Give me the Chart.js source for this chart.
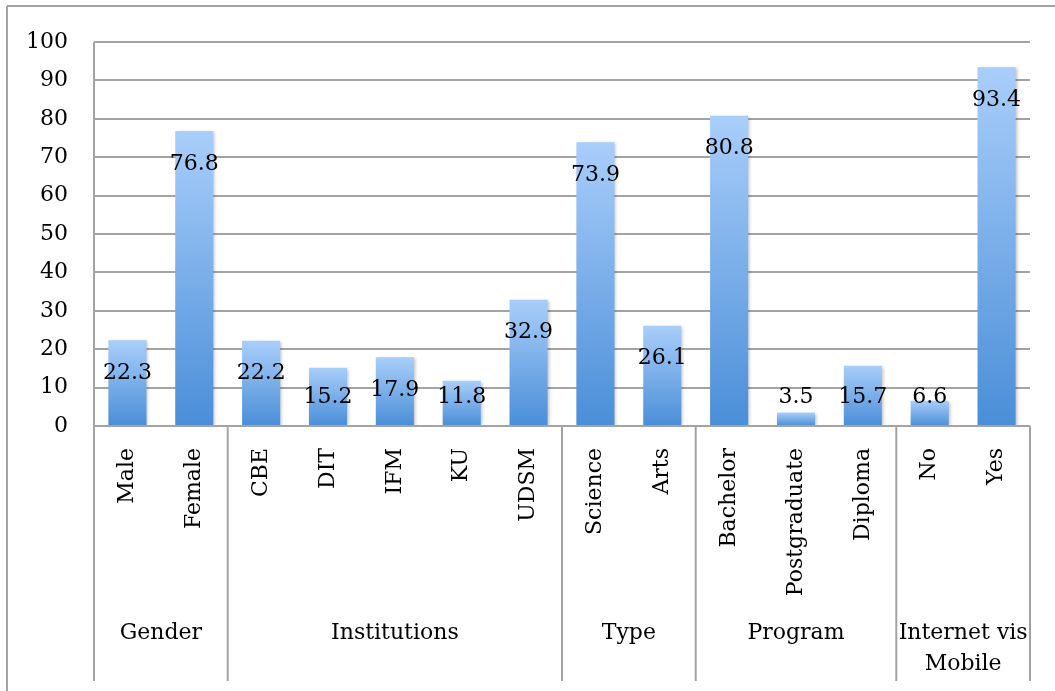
<!DOCTYPE html>
<html>
<head>
<meta charset="utf-8">
<script src="https://cdn.jsdelivr.net/npm/chart.js@4.4.0/dist/chart.umd.min.js"></script>
<style>
    body { margin: 0; background: #fff; }
    #wrap { width: 1055px; height: 691px; }
</style>
</head>
<body>
<div id="wrap"><canvas id="barChart" width="1055" height="691"></canvas></div>
<script>
// Chart data
const categories = ['Male', 'Female', 'CBE', 'DIT', 'IFM', 'KU', 'UDSM', 'Science', 'Arts',
    'Bachelor', 'Postgraduate', 'Diploma', 'No', 'Yes'];
const values = [22.3, 76.8, 22.2, 15.2, 17.9, 11.8, 32.9, 73.9, 26.1, 80.8, 3.5, 15.7, 6.6, 93.4];
const groupNames = [['Gender'], ['Institutions'], ['Type'], ['Program'], ['Internet vis', 'Mobile']];
const groupSizes = [2, 5, 2, 3, 2];
const yTicks = [0, 10, 20, 30, 40, 50, 60, 70, 80, 90, 100];

const FONT = '"DejaVu Serif", serif';
const LINE = '#a3a3a3';

// vertical gradient per bar, light at top
function barGradient(context) {
    const chart = context.chart;
    const y = chart.scales.y;
    if (!chart.chartArea || !y || context.parsed === undefined) return '#7fb2ec';
    const top = y.getPixelForValue(context.parsed.y);
    const bottom = y.getPixelForValue(0);
    const g = chart.ctx.createLinearGradient(0, top, 0, bottom);
    g.addColorStop(0, '#a9cefa');
    g.addColorStop(1, '#4a8ed8');
    return g;
}

// frame, separators, group labels
const decorPlugin = {
    id: 'decor',
    beforeDatasetsDraw(chart) {
        const c = chart.ctx;
        c.save();
        c.shadowColor = 'rgba(0,0,0,0.22)';
        c.shadowBlur = 3;
        c.shadowOffsetX = 2;
        c.shadowOffsetY = 1;
    },
    afterDatasetsDraw(chart) {
        chart.ctx.restore();
    },
    afterDraw(chart) {
        const c = chart.ctx;
        const x = chart.scales.x;
        const y = chart.scales.y;
        const area = chart.chartArea;
        const y0 = y.getPixelForValue(0);
        const sepBottom = 681;

        c.save();
        c.strokeStyle = LINE;
        c.lineWidth = 2;

        // outer frame (top and left)
        c.beginPath();
        c.moveTo(7, 6); c.lineTo(1055, 6);
        c.moveTo(7, 6); c.lineTo(7, 691);
        c.stroke();

        // value axis line
        c.beginPath();
        c.moveTo(area.left, area.top); c.lineTo(area.left, sepBottom);
        c.moveTo(area.left, y0); c.lineTo(area.right, y0);
        c.stroke();

        // group separators and labels
        c.fillStyle = '#000';
        c.font = '22px ' + FONT;
        c.textAlign = 'center';
        c.textBaseline = 'middle';
        let start = 0;
        groupSizes.forEach((n, gi) => {
            const end = start + n - 1;
            const left = start === 0 ? area.left : (x.getPixelForValue(start - 1) + x.getPixelForValue(start)) / 2;
            const right = end === categories.length - 1 ? area.right : (x.getPixelForValue(end) + x.getPixelForValue(end + 1)) / 2;
            c.beginPath();
            c.moveTo(right, y0); c.lineTo(right, sepBottom);
            c.stroke();
            const lines = groupNames[gi];
            lines.forEach((t, li) => {
                c.fillText(t, (left + right) / 2, 633 + li * 31);
            });
            start += n;
        });

        // value labels
        const meta = chart.getDatasetMeta(0);
        meta.data.forEach((bar, i) => {
            const ly = Math.min(bar.y + 33, y0 - 29);
            c.fillText(values[i].toFixed(1), bar.x, ly);
        });
        c.restore();
    }
};

const ctx = document.getElementById('barChart').getContext('2d');
const barChart = new Chart(ctx, {
    type: 'bar',
    data: {
        labels: categories,
        datasets: [{
            data: values,
            backgroundColor: barGradient,
            borderWidth: 0,
            barPercentage: 0.57,
            categoryPercentage: 1.0
        }]
    },
    options: {
        responsive: false,
        animation: false,
        layout: {
            padding: { left: 0, right: 25, top: 42, bottom: 0 }
        },
        plugins: {
            legend: { display: false },
            tooltip: { enabled: false }
        },
        scales: {
            x: {
                grid: { display: false },
                border: { display: false },
                ticks: {
                    color: '#000',
                    font: { family: FONT, size: 22 },
                    maxRotation: 90,
                    minRotation: 90,
                    padding: 14,
                    autoSkip: false
                },
                afterFit(scale) { scale.height = 691 - 426; }
            },
            y: {
                min: 0,
                max: 100,
                afterBuildTicks(scale) {
                    scale.ticks = yTicks.map(v => ({ value: v }));
                },
                grid: {
                    color: LINE,
                    lineWidth: 2,
                    drawTicks: false
                },
                border: { display: false },
                ticks: {
                    color: '#000',
                    font: { family: FONT, size: 22 },
                    padding: 26
                },
                afterFit(scale) { scale.width = 94; }
            }
        }
    },
    plugins: [decorPlugin]
});
</script>
</body>
</html>
